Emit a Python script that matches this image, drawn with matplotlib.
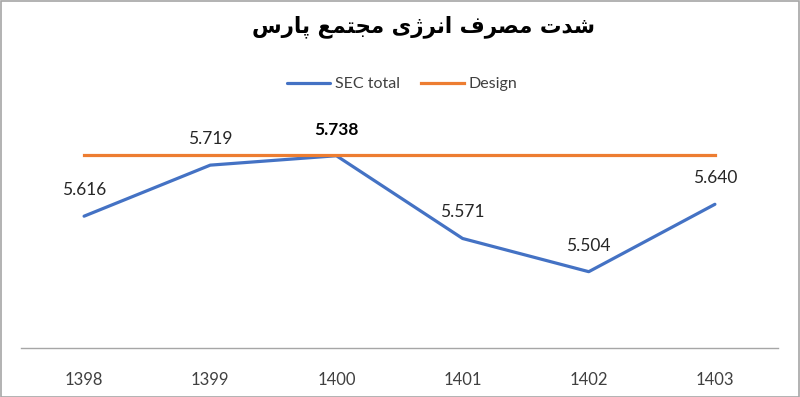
import matplotlib
matplotlib.use("Agg")
import matplotlib.pyplot as plt
from matplotlib.patches import Rectangle

# ---- data ----
years = ["1398", "1399", "1400", "1401", "1402", "1403"]
sec_total = [5.616, 5.719, 5.738, 5.571, 5.504, 5.640]
design = [5.74, 5.74, 5.74, 5.74, 5.74, 5.74]
title_fa = "شدت مصرف انرژی مجتمع پارس"
legend_labels = ["SEC total", "Design"]

# ---- minimal Arabic-script shaping (presentation forms, visual order) ----
FORMS = {
    'ا': ('\uFE8D', '\uFE8E', None, None),
    'د': ('\uFEA9', '\uFEAA', None, None),
    'ر': ('\uFEAD', '\uFEAE', None, None),
    'ژ': ('\uFB8A', '\uFB8B', None, None),
    'پ': ('\uFB56', '\uFB57', '\uFB58', '\uFB59'),
    'ت': ('\uFE95', '\uFE96', '\uFE97', '\uFE98'),
    'ج': ('\uFE9D', '\uFE9E', '\uFE9F', '\uFEA0'),
    'س': ('\uFEB1', '\uFEB2', '\uFEB3', '\uFEB4'),
    'ش': ('\uFEB5', '\uFEB6', '\uFEB7', '\uFEB8'),
    'ص': ('\uFEB9', '\uFEBA', '\uFEBB', '\uFEBC'),
    'ع': ('\uFEC9', '\uFECA', '\uFECB', '\uFECC'),
    'ف': ('\uFED1', '\uFED2', '\uFED3', '\uFED4'),
    'م': ('\uFEE1', '\uFEE2', '\uFEE3', '\uFEE4'),
    'ن': ('\uFEE5', '\uFEE6', '\uFEE7', '\uFEE8'),
    'ی': ('\uFBFC', '\uFBFD', '\uFBFE', '\uFBFF'),
}


def dual(c):
    return c in FORMS and FORMS[c][2] is not None


def shape_word(w):
    out = []
    for i, c in enumerate(w):
        if c not in FORMS:
            out.append(c)
            continue
        prev_j = i > 0 and dual(w[i - 1])
        next_j = dual(c) and i + 1 < len(w) and w[i + 1] in FORMS
        iso, fin, ini, med = FORMS[c]
        if prev_j and next_j:
            out.append(med)
        elif prev_j:
            out.append(fin)
        elif next_j:
            out.append(ini)
        else:
            out.append(iso)
    return "".join(reversed(out))


def shape(text):
    return " ".join(shape_word(w) for w in reversed(text.split()))


plt.rcParams['font.family'] = ['Lato', 'DejaVu Sans']

W, H = 800, 397
fig = plt.figure(figsize=(W / 100, H / 100), dpi=100)
fig.patch.set_facecolor("white")
fig.patches.append(Rectangle((0.5 / W, 0.5 / H), 1 - 1.5 / W, 1 - 1.5 / H,
                             transform=fig.transFigure, fill=False,
                             edgecolor="#a6a6a6", linewidth=1.2))

ax_left = 21 / W
ax_right = 778 / W
ax_bottom = 1 - 348 / H
ax_top = 1 - 125 / H
ax = fig.add_axes([ax_left, ax_bottom, ax_right - ax_left, ax_top - ax_bottom])

x = list(range(len(years)))
l1, = ax.plot(x, sec_total, color="#4472C4", lw=2.3, solid_capstyle="round")
l2, = ax.plot(x, design, color="#ED7D31", lw=2.3)

ax.set_xlim(-0.5, len(years) - 0.5)
ax.set_ylim(5.35, 5.80)
ax.set_xticks(x)
ax.set_xticklabels(years, fontsize=12, color="#404040")
ax.tick_params(axis="x", length=0, pad=17)
ax.set_yticks([])
for s in ("top", "left", "right"):
    ax.spines[s].set_visible(False)
ax.spines["bottom"].set_color("#a6a6a6")
ax.spines["bottom"].set_linewidth(1.0)

imax = sec_total.index(max(sec_total))
for i, v in enumerate(sec_total):
    ax.annotate(f"{v:.3f}", (i, v), xytext=(0, 13), textcoords="offset points",
                ha="center", va="bottom", fontsize=12.5, color="#262626" if i != imax else "black",
                fontweight="bold" if i == imax else "normal")

fig.text(423 / W, 1 - 27 / H, shape(title_fa), ha="center", va="center",
         fontsize=15.5, fontweight="bold", family=["DejaVu Sans"], color="black")

fig.legend([l1, l2], legend_labels, loc="center", bbox_to_anchor=(402 / W, 1 - 84 / H),
           ncol=2, frameon=False, fontsize=11.5, handlelength=2.7, columnspacing=1.3,
           handletextpad=0.3, labelcolor="#404040")

fig.savefig("out.png", dpi=100, facecolor="white")
